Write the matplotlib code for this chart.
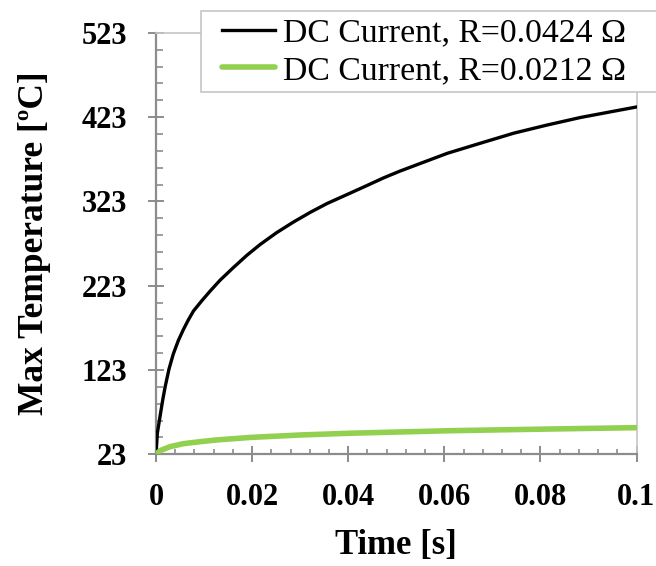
import matplotlib
matplotlib.use("Agg")
import matplotlib.pyplot as plt
from matplotlib.ticker import MultipleLocator, FixedLocator
from matplotlib.patches import Rectangle

# Data
t_high = [0.0, 0.00028, 0.00083, 0.0014, 0.0019, 0.0027, 0.0036, 0.00465, 0.0057,
          0.00674, 0.0078, 0.00951, 0.01125, 0.01333, 0.0161, 0.0189, 0.0217,
          0.0251, 0.0286, 0.0321, 0.0356, 0.0397, 0.0432, 0.0474, 0.0508,
          0.0536, 0.0606, 0.0675, 0.0745, 0.0814, 0.0883, 0.0953, 0.1]
T_high = [23, 48, 67.6, 87.5, 103, 124, 142, 158, 171,
          182.5, 193, 205, 216.5, 229.5, 244.5, 259, 272,
          285.9, 298.5, 310, 320.5, 331, 340, 351, 359,
          365, 380, 392, 404, 413.6, 422.5, 430, 435]

t_low = [0.0, 0.00083, 0.0029, 0.0057, 0.0092, 0.0126, 0.0196, 0.03, 0.0404,
         0.0613, 0.082, 0.1]
T_low = [23, 27.3, 32, 35.6, 38, 40, 43, 45.9, 48, 51, 53, 54.6]

labels = ["DC Current, R=0.0424 Ω", "DC Current, R=0.0212 Ω"]
y_ticks = [23, 123, 223, 323, 423, 523]
x_ticks = [0, 0.02, 0.04, 0.06, 0.08, 0.1]
x_ticklabels = ["0", "0.02", "0.04", "0.06", "0.08", "0.1"]

plt.rcParams['font.family'] = ['Liberation Serif', 'DejaVu Serif']

fig = plt.figure(figsize=(6.56, 5.66), dpi=100)
ax = fig.add_axes([156/656, 1-454.3/566, (636.5-156)/656, (454.3-32.8)/566])

l1, = ax.plot(t_high, T_high, color='black', lw=2.4, label=labels[0], zorder=3)
l2, = ax.plot(t_low, T_low, color='#92d050', lw=4.0, label=labels[1], zorder=3,
              solid_capstyle='round')

ax.set_xlim(0, 0.1)
ax.set_ylim(23, 523)
ax.xaxis.set_major_locator(FixedLocator(x_ticks))
ax.set_xticklabels(x_ticklabels)
ax.xaxis.set_minor_locator(MultipleLocator(0.004))
ax.yaxis.set_major_locator(FixedLocator(y_ticks))
ax.yaxis.set_minor_locator(FixedLocator([23 + 20*i for i in range(26)]))

axis_gray = '#8c8c8c'
light_gray = '#c6c6c6'
for s in ['left', 'bottom']:
    ax.spines[s].set_color(axis_gray)
    ax.spines[s].set_linewidth(1.6)
for s in ['top', 'right']:
    ax.spines[s].set_color(light_gray)
    ax.spines[s].set_linewidth(1.2)

ax.tick_params(axis='both', which='major', direction='inout', length=11.5,
               width=1.4, color=axis_gray, labelsize=22, labelcolor='black')
ax.tick_params(axis='y', which='minor', direction='in', length=5,
               width=1.2, color=axis_gray)
ax.tick_params(axis='x', which='minor', direction='in', length=3.5,
               width=1.2, color=axis_gray)
ax.tick_params(axis='y', which='major', pad=15)
ax.tick_params(axis='x', which='major', pad=15)
for lab in ax.get_xticklabels() + ax.get_yticklabels():
    lab.set_fontweight('bold')

ax.set_xlabel("Time [s]", fontsize=25, fontweight='bold', labelpad=12)
ax.set_ylabel("Max Temperature [ºC]", fontsize=25.5, fontweight='bold', labelpad=22)

# legend frame (extends past the right edge of the figure)
frame = Rectangle((201/656, 1-91.7/566), 0.8, (91.7-11)/566,
                  transform=fig.transFigure, facecolor='white',
                  edgecolor=light_gray, linewidth=1.2, zorder=5)
fig.patches.append(frame)

leg = fig.legend(handles=[l1, l2], loc='upper left',
                 bbox_to_anchor=(222/656, 1-18/566),
                 fontsize=24.3, frameon=False, handlelength=1.57,
                 handletextpad=0.25, borderpad=0, labelspacing=0.2,
                 borderaxespad=0)
leg.set_zorder(6)

fig.savefig("out.png", dpi=100)
